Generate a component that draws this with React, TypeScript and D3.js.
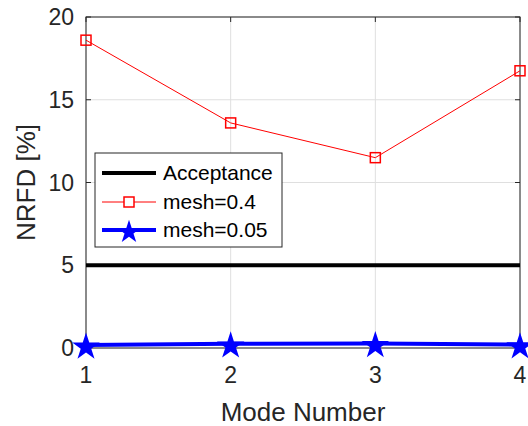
import React, { useRef, useEffect } from 'react';
import * as d3 from 'd3';

const modes = [1, 2, 3, 4];
const acceptance = [5, 5, 5, 5];
const mesh04 = [18.6, 13.6, 11.5, 16.75];
const mesh005 = [0.18, 0.25, 0.27, 0.2];
const yTicks = [0, 5, 10, 15, 20];
const legendLabels = ['Acceptance', 'mesh=0.4', 'mesh=0.05'];

const App = () => {
	const svgWidth = 528;
	const svgHeight = 426;
	const chart = useRef<SVGSVGElement>(null);

	useEffect(() => {
		if (!chart.current) return;
		const margin = { top: 17, right: 8, bottom: 78, left: 86 };
		const width = svgWidth - margin.left - margin.right;
		const height = svgHeight - margin.top - margin.bottom;
		const font = '"Liberation Sans", Arial, Helvetica, sans-serif';
		const axisColor = '#262626';

		d3.select(chart.current).selectAll('*').remove();
		const svg = d3
			.select(chart.current)
			.append('g')
			.attr('transform', 'translate(' + margin.left + ',' + margin.top + ')');

		const xScale = d3.scaleLinear().domain([1, 4]).range([0, width]);
		const yScale = d3.scaleLinear().domain([0, 20]).range([height, 0]);

		/* grid */
		svg.append('g')
			.selectAll('line')
			.data(modes)
			.join('line')
			.attr('x1', (d) => xScale(d))
			.attr('x2', (d) => xScale(d))
			.attr('y1', 0)
			.attr('y2', height)
			.attr('stroke', '#dfdfdf');
		svg.append('g')
			.selectAll('line')
			.data(yTicks)
			.join('line')
			.attr('y1', (d) => yScale(d))
			.attr('y2', (d) => yScale(d))
			.attr('x1', 0)
			.attr('x2', width)
			.attr('stroke', '#dfdfdf');

		/* box with inward ticks */
		svg.append('rect')
			.attr('width', width)
			.attr('height', height)
			.attr('fill', 'none')
			.attr('stroke', axisColor)
			.attr('stroke-width', 1);
		const tl = 5;
		modes.forEach((m) => {
			svg.append('line').attr('x1', xScale(m)).attr('x2', xScale(m)).attr('y1', height).attr('y2', height - tl).attr('stroke', axisColor);
			svg.append('line').attr('x1', xScale(m)).attr('x2', xScale(m)).attr('y1', 0).attr('y2', tl).attr('stroke', axisColor);
		});
		yTicks.forEach((t) => {
			svg.append('line').attr('y1', yScale(t)).attr('y2', yScale(t)).attr('x1', 0).attr('x2', tl).attr('stroke', axisColor);
			svg.append('line').attr('y1', yScale(t)).attr('y2', yScale(t)).attr('x1', width).attr('x2', width - tl).attr('stroke', axisColor);
		});

		/* tick labels */
		svg.append('g')
			.selectAll('text')
			.data(modes)
			.join('text')
			.attr('x', (d) => xScale(d))
			.attr('y', height + 35)
			.attr('text-anchor', 'middle')
			.style('font-family', font)
			.style('font-size', '23px')
			.style('fill', axisColor)
			.text((d) => d);
		svg.append('g')
			.selectAll('text')
			.data(yTicks)
			.join('text')
			.attr('x', -12)
			.attr('y', (d) => yScale(d) + 8)
			.attr('text-anchor', 'end')
			.style('font-family', font)
			.style('font-size', '23px')
			.style('fill', axisColor)
			.text((d) => d);

		/* axis labels */
		svg.append('text')
			.attr('x', width / 2)
			.attr('y', height + 73)
			.attr('text-anchor', 'middle')
			.style('font-family', font)
			.style('font-size', '26px')
			.style('fill', axisColor)
			.text('Mode Number');
		svg.append('text')
			.attr('transform', 'rotate(-90)')
			.attr('x', -height / 2)
			.attr('y', -margin.left + 35)
			.attr('text-anchor', 'middle')
			.style('font-family', font)
			.style('font-size', '26px')
			.style('fill', axisColor)
			.text('NRFD [%]');

		const line = d3
			.line<number>()
			.x((d, i) => xScale(modes[i]))
			.y((d) => yScale(d));

		const star = d3.symbol().type(d3.symbolStar).size(236);
		const starSmall = d3.symbol().type(d3.symbolStar).size(170);

		/* Acceptance */
		svg.append('path').datum(acceptance).attr('d', line).attr('fill', 'none').attr('stroke', '#000').attr('stroke-width', 4);

		/* mesh=0.4 */
		svg.append('path').datum(mesh04).attr('d', line).attr('fill', 'none').attr('stroke', '#ff0000').attr('stroke-width', 1);
		svg.append('g')
			.selectAll('rect')
			.data(mesh04)
			.join('rect')
			.attr('x', (d, i) => xScale(modes[i]) - 5)
			.attr('y', (d) => yScale(d) - 5)
			.attr('width', 10)
			.attr('height', 10)
			.attr('fill', 'none')
			.attr('stroke', '#ff0000')
			.attr('stroke-width', 1.5);

		/* mesh=0.05 */
		svg.append('path').datum(mesh005).attr('d', line).attr('fill', 'none').attr('stroke', '#0000ff').attr('stroke-width', 4);
		svg.append('g')
			.selectAll('path')
			.data(mesh005)
			.join('path')
			.attr('d', star)
			.attr('transform', (d, i) => 'translate(' + xScale(modes[i]) + ',' + (yScale(d) + 2) + ')')
			.attr('fill', '#0000ff');

		/* legend */
		const lg = svg.append('g').attr('transform', 'translate(' + (95 - margin.left) + ',' + (153 - margin.top) + ')');
		lg.append('rect').attr('width', 187).attr('height', 94).attr('fill', '#fff').attr('stroke', axisColor).attr('stroke-width', 1);
		const rows = [20, 49, 77];
		legendLabels.forEach((lab, i) => {
			const y = rows[i];
			const color = i === 0 ? '#000' : i === 1 ? '#ff0000' : '#0000ff';
			lg.append('line')
				.attr('x1', 7)
				.attr('x2', 61)
				.attr('y1', y)
				.attr('y2', y)
				.attr('stroke', color)
				.attr('stroke-width', i === 1 ? 1 : 4);
			if (i === 1) {
				lg.append('rect').attr('x', 29).attr('y', y - 5).attr('width', 10).attr('height', 10).attr('fill', '#fff').attr('stroke', color).attr('stroke-width', 1.5);
			}
			if (i === 2) {
				lg.append('path').attr('d', starSmall).attr('transform', 'translate(34,' + (y + 2) + ')').attr('fill', color);
			}
			lg.append('text')
				.attr('x', 68)
				.attr('y', y + 7)
				.style('font-family', font)
				.style('font-size', '21px')
				.style('fill', '#000')
				.text(lab);
		});
	}, []);

	return <svg width={svgWidth} height={svgHeight} ref={chart} style={{ position: 'absolute', left: 0, top: 0, background: '#fff' }} />;
};

export default App;
